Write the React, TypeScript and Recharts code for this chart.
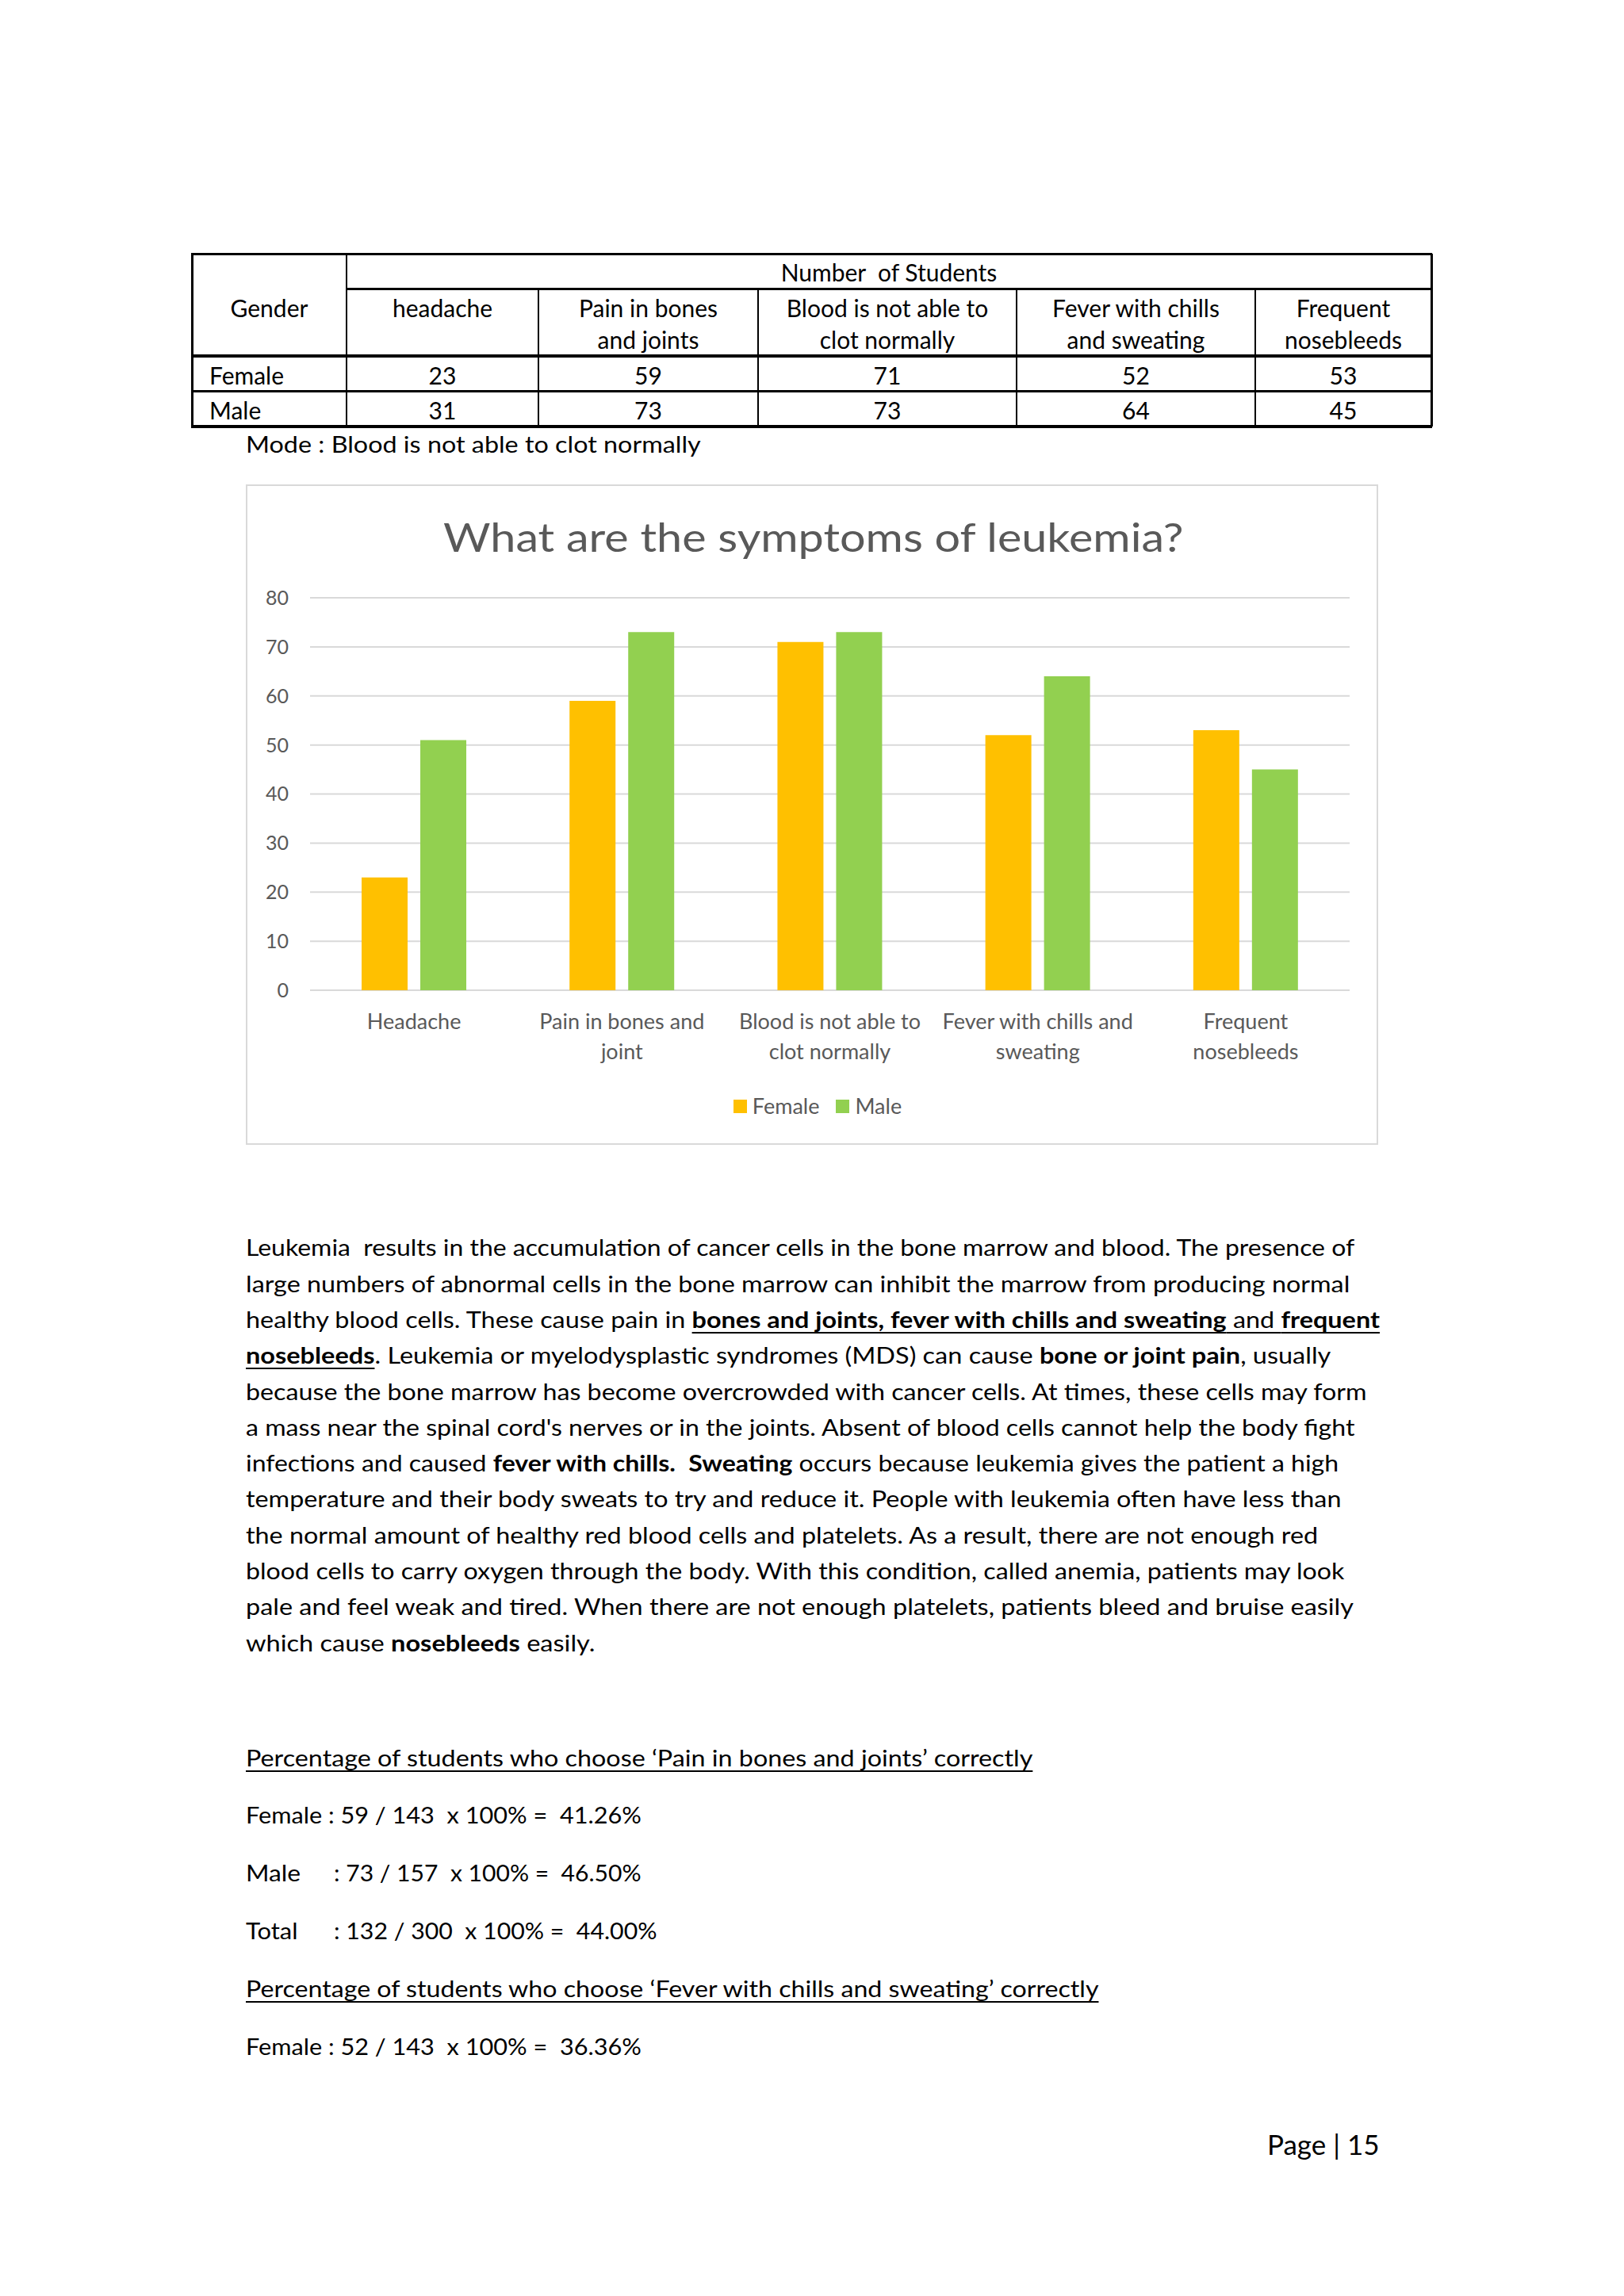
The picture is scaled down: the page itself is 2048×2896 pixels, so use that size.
import React, { useLayoutEffect, useRef, useState } from 'react';
import { BarChart, Bar, XAxis, YAxis, CartesianGrid, Legend } from 'recharts';

// ---------- chart data ----------
const categories = [
  'Headache',
  'Pain in bones and joint',
  'Blood is not able to clot normally',
  'Fever with chills and sweating',
  'Frequent nosebleeds',
];
const categoryLines = [
  ['Headache'],
  ['Pain in bones and', 'joint'],
  ['Blood is not able to', 'clot normally'],
  ['Fever with chills and', 'sweating'],
  ['Frequent', 'nosebleeds'],
];
const femaleValues = [23, 59, 71, 52, 53];
const maleValues = [51, 73, 73, 64, 45];
const yTicks = [0, 10, 20, 30, 40, 50, 60, 70, 80];
const seriesNames = ['Female', 'Male'];

// ---------- table data ----------
const tableHeaderLines = [
  ['headache'],
  ['Pain in bones', 'and joints'],
  ['Blood is not able to', 'clot normally'],
  ['Fever with chills', 'and sweating'],
  ['Frequent', 'nosebleeds'],
];
const tableFemale = [23, 59, 71, 52, 53];
const tableMale = [31, 73, 73, 64, 45];

// ---------- styles ----------
const FEMALE_COLOR = '#FFC000';
const MALE_COLOR = '#92D050';
const GREY = '#595959';
const FONT = 'Lato, "Open Sans", sans-serif';

type Seg = [string, string];
const bodyLines: Seg[][] = [
  [['Leukemia  results in the accumulation of cancer cells in the bone marrow and blood. The presence of', 'n']],
  [['large numbers of abnormal cells in the bone marrow can inhibit the marrow from producing normal', 'n']],
  [
    ['healthy blood cells. These cause pain in ', 'n'],
    ['bones and joints, fever with chills and sweating', 'bu'],
    [' and ', 'u'],
    ['frequent', 'bu'],
  ],
  [
    ['nosebleeds', 'bu'],
    ['. Leukemia or myelodysplastic syndromes (MDS) can cause ', 'n'],
    ['bone or joint pain', 'b'],
    [', usually', 'n'],
  ],
  [['because the bone marrow has become overcrowded with cancer cells. At times, these cells may form', 'n']],
  [['a mass near the spinal cord\'s nerves or in the joints. Absent of blood cells cannot help the body fight', 'n']],
  [
    ['infections and caused ', 'n'],
    ['fever with chills.', 'b'],
    ['  ', 'n'],
    ['Sweating', 'b'],
    [' occurs because leukemia gives the patient a high', 'n'],
  ],
  [['temperature and their body sweats to try and reduce it. People with leukemia often have less than', 'n']],
  [['the normal amount of healthy red blood cells and platelets. As a result, there are not enough red', 'n']],
  [['blood cells to carry oxygen through the body. With this condition, called anemia, patients may look', 'n']],
  [['pale and feel weak and tired. When there are not enough platelets, patients bleed and bruise easily', 'n']],
  [
    ['which cause ', 'n'],
    ['nosebleeds', 'b'],
    [' easily.', 'n'],
  ],
];
const bodyLineEnds = [1708, 1702, 1740, 1678, 1724, 1708, 1688, 1692, 1662, 1695, 1707, 751];

function segStyle(k: string): React.CSSProperties {
  return {
    fontWeight: k.includes('b') ? 700 : 400,
    textDecoration: k.includes('u') ? 'underline' : 'none',
    textDecorationThickness: k.includes('u') ? 2 : undefined,
    textUnderlineOffset: k.includes('u') ? 5 : undefined,
  };
}

function FitText(props: {
  left: number;
  baseline: number;
  size: number;
  width: number;
  color?: string;
  children: React.ReactNode;
}) {
  const { left, baseline, size, width, color = '#000', children } = props;
  const ref = useRef<HTMLSpanElement>(null);
  const [k, setK] = useState(1);
  useLayoutEffect(() => {
    const measure = () => {
      const el = ref.current;
      if (!el) return;
      const w = el.offsetWidth;
      if (w > 0) setK(width / w);
    };
    measure();
    const f: any = (document as any).fonts;
    if (f && f.ready) f.ready.then(measure);
  }, [width]);
  const top = baseline - 0.987 * size;
  return (
    <div
      style={{
        position: 'absolute',
        left,
        top,
        fontSize: size,
        lineHeight: `${size * 1.2}px`,
        whiteSpace: 'pre',
        color,
        fontFamily: FONT,
      }}
    >
      <span
        ref={ref}
        style={{ display: 'inline-block', transform: `scaleX(${k})`, transformOrigin: '0 0' }}
      >
        {children}
      </span>
    </div>
  );
}

function CenterText(props: { left: number; width: number; baseline: number; size: number; children: React.ReactNode; align?: 'center' | 'left'; pad?: number }) {
  const { left, width, baseline, size, children, align = 'center', pad = 0 } = props;
  return (
    <div
      style={{
        position: 'absolute',
        left: left + pad,
        width: width - pad,
        top: baseline - 0.987 * size,
        fontSize: size,
        lineHeight: `${size * 1.2}px`,
        textAlign: align,
        whiteSpace: 'pre',
        fontFamily: FONT,
        color: '#000',
      }}
    >
      {children}
    </div>
  );
}

function HLine({ y, x1, x2, t }: { y: number; x1: number; x2: number; t: number }) {
  return <div style={{ position: 'absolute', left: x1, top: y - t / 2, width: x2 - x1, height: t, background: '#000' }} />;
}
function VLine({ x, y1, y2, t }: { x: number; y1: number; y2: number; t: number }) {
  return <div style={{ position: 'absolute', left: x - t / 2, top: y1, width: t, height: y2 - y1, background: '#000' }} />;
}

function DataTable() {
  const cols = [242, 437, 679, 956, 1282, 1583, 1805];
  const yTop = 320;
  const yH1 = 364;
  const yH2 = 449;
  const yR1 = 493;
  const yBot = 538;
  const S = 30;
  const els: React.ReactNode[] = [];
  els.push(<HLine key="h0" y={yTop} x1={cols[0] - 1} x2={cols[6] + 1} t={3} />);
  els.push(<HLine key="h1" y={yH1} x1={cols[1]} x2={cols[6]} t={3} />);
  els.push(<HLine key="h2" y={yH2} x1={cols[0]} x2={cols[6]} t={4} />);
  els.push(<HLine key="h3" y={yR1} x1={cols[0]} x2={cols[6]} t={3} />);
  els.push(<HLine key="h4" y={yBot} x1={cols[0] - 1} x2={cols[6] + 1} t={4} />);
  els.push(<VLine key="v0" x={cols[0]} y1={yTop} y2={yBot} t={3} />);
  els.push(<VLine key="v1" x={cols[1]} y1={yTop} y2={yBot} t={2} />);
  for (let i = 2; i < 6; i++) els.push(<VLine key={'v' + i} x={cols[i]} y1={yH1} y2={yBot} t={2} />);
  els.push(<VLine key="v6" x={cols[6]} y1={yTop} y2={yBot} t={3} />);

  els.push(
    <CenterText key="nos" left={cols[1]} width={cols[6] - cols[1]} baseline={355} size={S}>
      {'Number  of Students'}
    </CenterText>
  );
  els.push(
    <CenterText key="gender" left={cols[0]} width={cols[1] - cols[0]} baseline={400} size={S}>
      Gender
    </CenterText>
  );
  tableHeaderLines.forEach((lines, i) => {
    lines.forEach((l, j) => {
      els.push(
        <CenterText key={`hd${i}-${j}`} left={cols[i + 1]} width={cols[i + 2] - cols[i + 1]} baseline={400 + j * 40} size={S}>
          {l}
        </CenterText>
      );
    });
  });
  els.push(
    <CenterText key="fem" left={cols[0]} width={cols[1] - cols[0]} baseline={485} size={S} align="left" pad={22}>
      Female
    </CenterText>
  );
  els.push(
    <CenterText key="mal" left={cols[0]} width={cols[1] - cols[0]} baseline={529} size={S} align="left" pad={22}>
      Male
    </CenterText>
  );
  tableFemale.forEach((v, i) => {
    els.push(
      <CenterText key={'f' + i} left={cols[i + 1]} width={cols[i + 2] - cols[i + 1]} baseline={485} size={S}>
        {String(v)}
      </CenterText>
    );
  });
  tableMale.forEach((v, i) => {
    els.push(
      <CenterText key={'m' + i} left={cols[i + 1]} width={cols[i + 2] - cols[i + 1]} baseline={529} size={S}>
        {String(v)}
      </CenterText>
    );
  });
  return <>{els}</>;
}

function XTick(props: any) {
  const { x, y, payload } = props;
  const idx = categories.indexOf(payload.value);
  const lines = idx >= 0 ? categoryLines[idx] : [String(payload.value)];
  return (
    <text x={x} y={y} textAnchor="middle" fill={GREY} fontSize={27} fontFamily={FONT}>
      {lines.map((l, i) => (
        <tspan key={i} x={x} y={y + 49 + i * 38}>
          {l}
        </tspan>
      ))}
    </text>
  );
}

function LegendContent(props: any) {
  const payload = props.payload || [];
  return (
    <div
      style={{
        display: 'flex',
        justifyContent: 'center',
        alignItems: 'center',
        fontFamily: FONT,
        fontSize: 27,
        color: GREY,
        paddingLeft: 14,
        lineHeight: '32px',
      }}
    >
      {payload.map((p: any, i: number) => (
        <div key={p.value} style={{ display: 'flex', alignItems: 'center', marginRight: i === 0 ? 21 : 0 }}>
          <span style={{ width: 17, height: 17, background: p.color, marginRight: 7, display: 'inline-block' }} />
          <span>{p.value}</span>
        </div>
      ))}
    </div>
  );
}

const chartData = categories.map((c, i) => ({
  name: c,
  [seriesNames[0]]: femaleValues[i],
  [seriesNames[1]]: maleValues[i],
}));

function SymptomChart() {
  const W = 1428;
  const H = 833;
  return (
    <div style={{ position: 'absolute', left: 310, top: 611, width: W, height: H }}>
      <div
        style={{
          position: 'absolute',
          left: 0,
          top: 0,
          width: W,
          height: H,
          border: '2px solid #D9D9D9',
          boxSizing: 'border-box',
        }}
      />
      <BarChart
        width={W}
        height={H}
        data={chartData}
        margin={{ top: 143, right: 36, left: 0, bottom: 0 }}
        barCategoryGap="24.8%"
        barGap={16}
        style={{ fontFamily: FONT }}
      >
        <CartesianGrid vertical={false} stroke="#D9D9D9" strokeWidth={2} />
        <XAxis
          dataKey="name"
          axisLine={false}
          tickLine={false}
          tickSize={0}
          tickMargin={0}
          height={195}
          interval={0}
          tick={(p: any) => <XTick {...p} />}
        />
        <YAxis
          domain={[0, 80]}
          ticks={yTicks}
          interval={0}
          axisLine={false}
          tickLine={false}
          width={81}
          tickSize={6}
          tickMargin={21}
          tick={{ fill: GREY, fontSize: 25, fontFamily: FONT }}
        />
        <Legend
          verticalAlign="middle"
          wrapperStyle={{ top: 768, left: 0, width: W }}
          content={(p: any) => <LegendContent {...p} />}
        />
        <Bar dataKey={seriesNames[0]} fill={FEMALE_COLOR} isAnimationActive={false} />
        <Bar dataKey={seriesNames[1]} fill={MALE_COLOR} isAnimationActive={false} />
      </BarChart>
    </div>
  );
}

export default function App() {
  const bodyS = 29;
  return (
    <div
      style={{
        position: 'absolute',
        left: 0,
        top: 0,
        width: 2048,
        height: 2896,
        background: '#fff',
        overflow: 'hidden',
        fontFamily: FONT,
      }}
    >
      <DataTable />
      <FitText left={310} baseline={572} size={29} width={574}>
        {'Mode : Blood is not able to clot normally'}
      </FitText>

      <SymptomChart />
      <FitText left={559} baseline={696} size={51} width={934} color={GREY}>
        {'What are the symptoms of leukemia?'}
      </FitText>

      {bodyLines.map((segs, i) => (
        <FitText key={i} left={310} baseline={1585 + 45.3 * i} size={bodyS} width={bodyLineEnds[i] - 310}>
          {segs.map(([t, k], j) => (
            <span key={j} style={segStyle(k)}>
              {t}
            </span>
          ))}
        </FitText>
      ))}

      <FitText left={310} baseline={2229} size={bodyS} width={992}>
        <span style={segStyle('u')}>{'Percentage of students who choose \u2018Pain in bones and joints\u2019 correctly'}</span>
      </FitText>
      <FitText left={310} baseline={2301} size={bodyS} width={499}>
        {'Female : 59 / 143  x 100% =  41.26%'}
      </FitText>
      <FitText left={310} baseline={2374} size={bodyS} width={69}>
        {'Male'}
      </FitText>
      <FitText left={421} baseline={2374} size={bodyS} width={388}>
        {': 73 / 157  x 100% =  46.50%'}
      </FitText>
      <FitText left={310} baseline={2447} size={bodyS} width={65}>
        {'Total'}
      </FitText>
      <FitText left={421} baseline={2447} size={bodyS} width={407}>
        {': 132 / 300  x 100% =  44.00%'}
      </FitText>
      <FitText left={310} baseline={2520} size={bodyS} width={1076}>
        <span style={segStyle('u')}>{'Percentage of students who choose \u2018Fever with chills and sweating\u2019 correctly'}</span>
      </FitText>
      <FitText left={310} baseline={2593} size={bodyS} width={499}>
        {'Female : 52 / 143  x 100% =  36.36%'}
      </FitText>

      <FitText left={1598} baseline={2718} size={35} width={142}>
        {'Page | 15'}
      </FitText>
    </div>
  );
}
